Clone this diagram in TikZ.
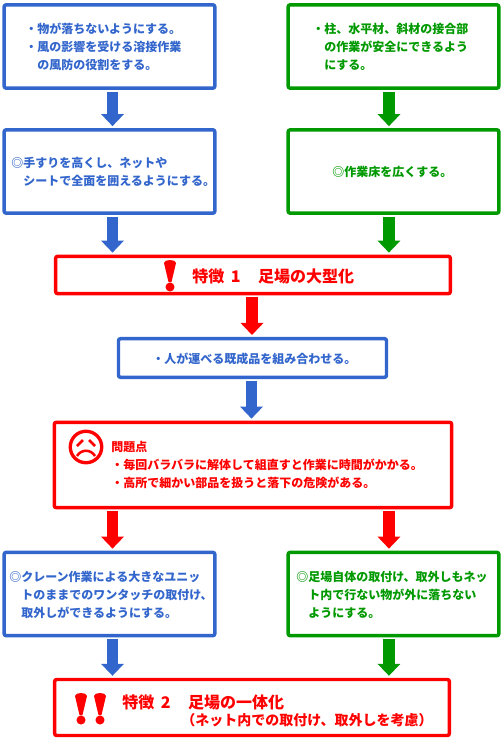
\documentclass[tikz,border=0pt]{standalone}
\usepackage{fontspec}
\setmainfont{Noto Sans CJK JP}
\usetikzlibrary{arrows.meta,positioning}
\definecolor{bluebox}{HTML}{3366CC}
\definecolor{greenbox}{HTML}{009900}
\definecolor{redbox}{HTML}{FF0000}
\newcommand{\bang}[2]{
  \fill[redbox] (#1-6,#2) .. controls (#1-6,#2-4) and (#1+6,#2-4) .. (#1+6,#2)
    -- (#1+1.5,#2+19) -- (#1-1.5,#2+19) -- cycle;
  \fill[redbox] (#1,#2+24) circle[radius=3.4pt];
}
\begin{document}
\begin{tikzpicture}[
  x=0.75pt, y=-0.75pt,
  stepbox/.style={draw=#1, line width=2.6pt, rounded corners=1.5pt, fill=white, inner sep=0pt},
  smallbox/.style={stepbox=bluebox, minimum width=158pt, minimum height=62.5pt},
  boxtext/.style={text=#1, font=\fontsize{9}{13.5}\selectfont\bfseries, align=left, anchor=west, inner sep=0pt},
  headtext/.style={text=redbox, font=\fontsize{12}{13.5}\selectfont\bfseries, align=left, anchor=west, inner sep=0pt},
  barr/.style={draw=#1, line width=8.6pt, shorten >=1.5pt, shorten <=1.5pt,
               -{Triangle[length=9pt,width=17.25pt,line width=0pt]}},
]
\useasboundingbox (0,0) rectangle (501,738);

%% top row
\node[smallbox] (b1) at (109.5,46.5) {};
\node[smallbox] (b2) at (109.5,171.5) {};
\node[smallbox, draw=greenbox] (g1) at (393.5,46.5) {};
\node[smallbox, draw=greenbox] (g2) at (393.5,171.5) {};
\node[boxtext=bluebox] (b1t) at (25,47) {・物が落ちないようにする。\\・風の影響を受ける溶接作業\\\hspace*{1em}の風防の役割をする。};
\node[boxtext=bluebox] (b2t) at (11,172) {◎手すりを高くし、ネットや\\\hspace*{1em}シートで全面を囲えるようにする。};
\node[boxtext=greenbox] (g1t) at (312,47) {・柱、水平材、斜材の接合部\\\hspace*{1em}の作業が安全にできるよう\\\hspace*{1em}にする。};
\node[boxtext=greenbox] (g2t) at (332,172) {◎作業床を広くする。};

%% feature 1
\node[stepbox=redbox, minimum width=296pt, minimum height=28pt] (f1) at (253,275) {};
\node[headtext] (f1t) at (192,276) {特徴\hspace{5pt}1\hspace{13pt}足場の大型化};

%% middle
\node[stepbox=bluebox, minimum width=201pt, minimum height=29pt] (b3) at (252.5,358) {};
\node[boxtext=bluebox] (b3t) at (152,359) {・人が運べる既成品を組み合わせる。};
\node[stepbox=redbox, minimum width=298pt, minimum height=64pt] (pr) at (253,465) {};
\node[boxtext=redbox] (prt) at (111,465) {問題点\\・毎回バラバラに解体して組直すと作業に時間がかかる。\\・高所で細かい部品を扱うと落下の危険がある。};

%% lower row
\node[smallbox] (b4) at (109.5,594) {};
\node[smallbox, draw=greenbox] (g4) at (393.5,594) {};
\node[boxtext=bluebox] (b4t) at (9,595) {◎クレーン作業による大きなユニッ\\\hspace*{1em}トのままでのワンタッチの取付け、\\\hspace*{1em}取外しができるようにする。};
\node[boxtext=greenbox] (g4t) at (296,595) {◎足場自体の取付け、取外しもネッ\\\hspace*{1em}ト内で行ない物が外に落ちない\\\hspace*{1em}ようにする。};

%% feature 2
\node[stepbox=redbox, minimum width=296pt, minimum height=42pt] (f2) at (252,707.5) {};
\node[headtext] (f2t) at (122,702) {特徴\hspace{5pt}2\hspace{13pt}足場の一体化};
\node[boxtext=redbox, font=\fontsize{10.5}{12}\selectfont\bfseries] (f2s) at (181,720) {（ネット内での取付け、取外しを考慮）};

%% marks
\bang{170}{263}
\bang{81}{696}
\bang{100}{696}
\draw[redbox, line width=2.5pt] (86,447) circle[radius=11.8pt];
\draw[redbox, line width=1.9pt] (77,446) -- (83,440);
\draw[redbox, line width=1.9pt] (95,446) -- (89,440);
\draw[redbox, line width=1.9pt] (77,456) .. controls (81,449) and (91,449) .. (95,456);

%% arrows
\draw[barr=bluebox] ([xshift=2.25pt]b1.south) -- ([xshift=2.25pt]b2.north);
\draw[barr=greenbox] ([xshift=-3.4pt]g1.south) -- ([xshift=-3.4pt]g2.north);
\draw[barr=bluebox] ([xshift=2.25pt]b2.south) -- ([xshift=2.25pt]b2.south |- f1.north);
\draw[barr=greenbox] ([xshift=-3.4pt]g2.south) -- ([xshift=-3.4pt]g2.south |- f1.north);
\draw[barr=redbox] ([xshift=-0.75pt]f1.south) -- ([xshift=-0.75pt]f1.south |- b3.north);
\draw[barr=bluebox] ([xshift=-0.75pt]b3.south) -- ([xshift=-0.75pt]b3.south |- pr.north);
\draw[barr=redbox] (pr.south -| b4.south) ++(2.25pt,0) coordinate (r1) -- (r1 |- b4.north);
\draw[barr=redbox] (pr.south -| g4.south) ++(-3.4pt,0) coordinate (r2) -- (r2 |- g4.north);
\draw[barr=bluebox] ([xshift=2.25pt]b4.south) -- ([xshift=2.25pt]b4.south |- f2.north);
\draw[barr=greenbox] ([xshift=-3.4pt]g4.south) -- ([xshift=-3.4pt]g4.south |- f2.north);
\end{tikzpicture}
\end{document}
